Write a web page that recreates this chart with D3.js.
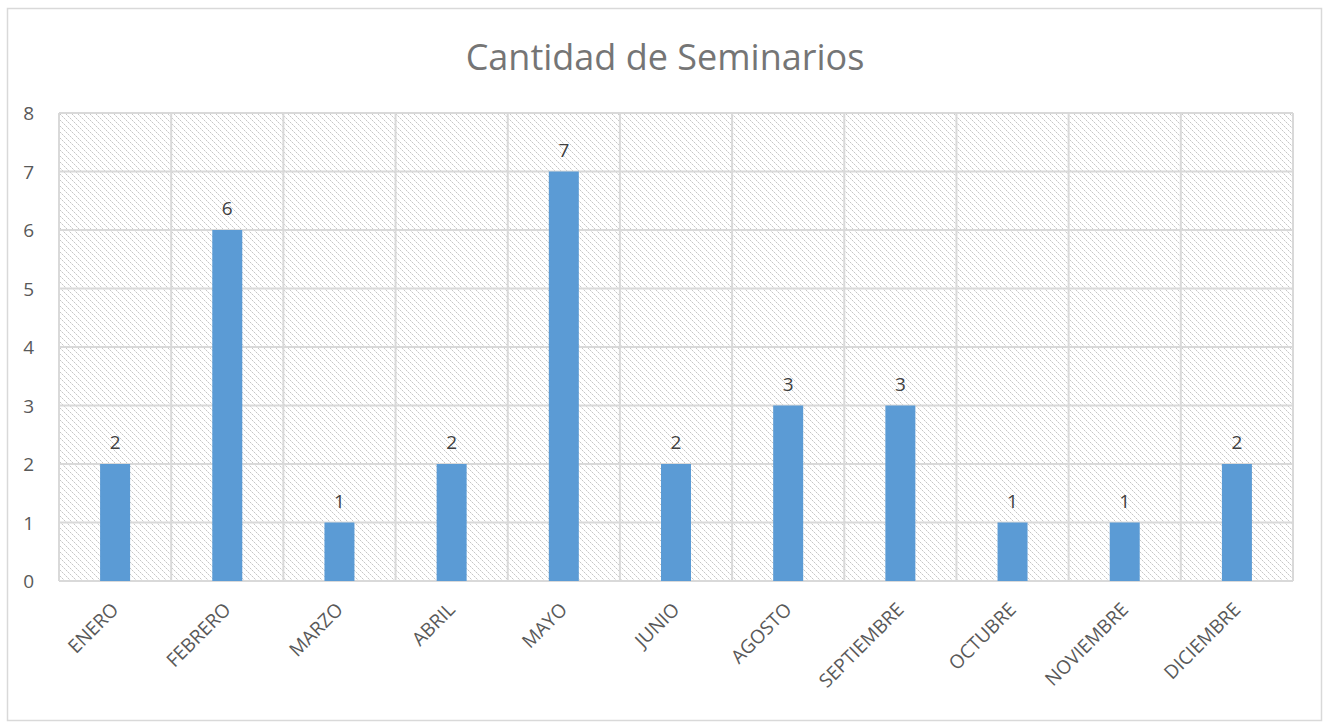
<!DOCTYPE html>
<html><head><meta charset="utf-8">
<script src="https://cdn.jsdelivr.net/npm/d3@7"></script>
<style>body{margin:0;background:#fff;} text{font-family:"Open Sans",sans-serif;}</style>
</head><body><svg id="c" width="1329" height="722"></svg>
<script>
const categories = ["ENERO","FEBRERO","MARZO","ABRIL","MAYO","JUNIO","AGOSTO","SEPTIEMBRE","OCTUBRE","NOVIEMBRE","DICIEMBRE"];
const values = [2,6,1,2,7,2,3,3,1,1,2];
const yTicks = [0,1,2,3,4,5,6,7,8];
const title = "Cantidad de Seminarios";

const svg = d3.select("#c");
const m = {l:59, r:1293, t:113, b:581};
svg.append("rect").attr("x",7.5).attr("y",8.5).attr("width",1314).attr("height",712).attr("fill","#fff").attr("stroke","#d9d9d9").attr("stroke-width",1.5);

const defs = svg.append("defs");
const P = 6;
const pat = defs.append("pattern").attr("id","hatch").attr("patternUnits","userSpaceOnUse").attr("width",P).attr("height",P);
pat.append("rect").attr("width",P).attr("height",P).attr("fill","#fff");
d3.range(P).forEach(i=>pat.append("rect").attr("x",i).attr("y",i).attr("width",1).attr("height",1)
  .attr("fill",i%2===0?"#c6c6c6":"#e4e4e4").attr("shape-rendering","crispEdges"));

const x = d3.scaleBand().domain(categories).range([m.l,m.r]);
const y = d3.scaleLinear().domain([0,8]).range([m.b,m.t]);

svg.append("rect").attr("x",m.l).attr("y",m.t).attr("width",m.r-m.l).attr("height",m.b-m.t).attr("fill","url(#hatch)");

// horizontal gridlines
svg.append("g").selectAll("line").data(yTicks).join("line")
  .attr("x1",m.l).attr("x2",m.r).attr("y1",d=>y(d)).attr("y2",d=>y(d))
  .attr("stroke","#d9d9d9").attr("stroke-width",2);
// vertical gridlines
const bounds = categories.map(c=>x(c)).concat([m.r]);
svg.append("g").selectAll("line").data(bounds).join("line")
  .attr("x1",d=>d).attr("x2",d=>d).attr("y1",m.t).attr("y2",m.b)
  .attr("stroke","#d9d9d9").attr("stroke-width",2);

const bw = 30;
svg.append("g").selectAll("rect").data(values).join("rect")
  .attr("x",(d,i)=>x(categories[i])+x.bandwidth()/2-bw/2)
  .attr("y",d=>y(d)).attr("width",bw).attr("height",d=>y(0)-y(d))
  .attr("fill","#5b9bd5");

svg.append("g").selectAll("text").data(values).join("text")
  .attr("x",(d,i)=>x(categories[i])+x.bandwidth()/2)
  .attr("y",d=>y(d)-15).attr("text-anchor","middle")
  .attr("font-size",19).attr("fill","#404040").text(d=>d);

// y axis labels
svg.append("g").selectAll("text").data(yTicks).join("text")
  .attr("x",34).attr("y",d=>y(d)+7).attr("text-anchor","end")
  .attr("font-size",19).attr("fill","#595959").text(d=>d);

// x axis labels
svg.append("g").selectAll("text").data(categories).join("text")
  .attr("transform",d=>`translate(${x(d)+x.bandwidth()/2},${m.b+25}) rotate(-45)`)
  .attr("text-anchor","end").attr("dy","0.35em")
  .attr("font-size",19).attr("fill","#595959").text(d=>d);

svg.append("text").attr("x",665).attr("y",70).attr("text-anchor","middle")
  .attr("font-size",36).attr("fill","#757575").text(title);
</script></body></html>
